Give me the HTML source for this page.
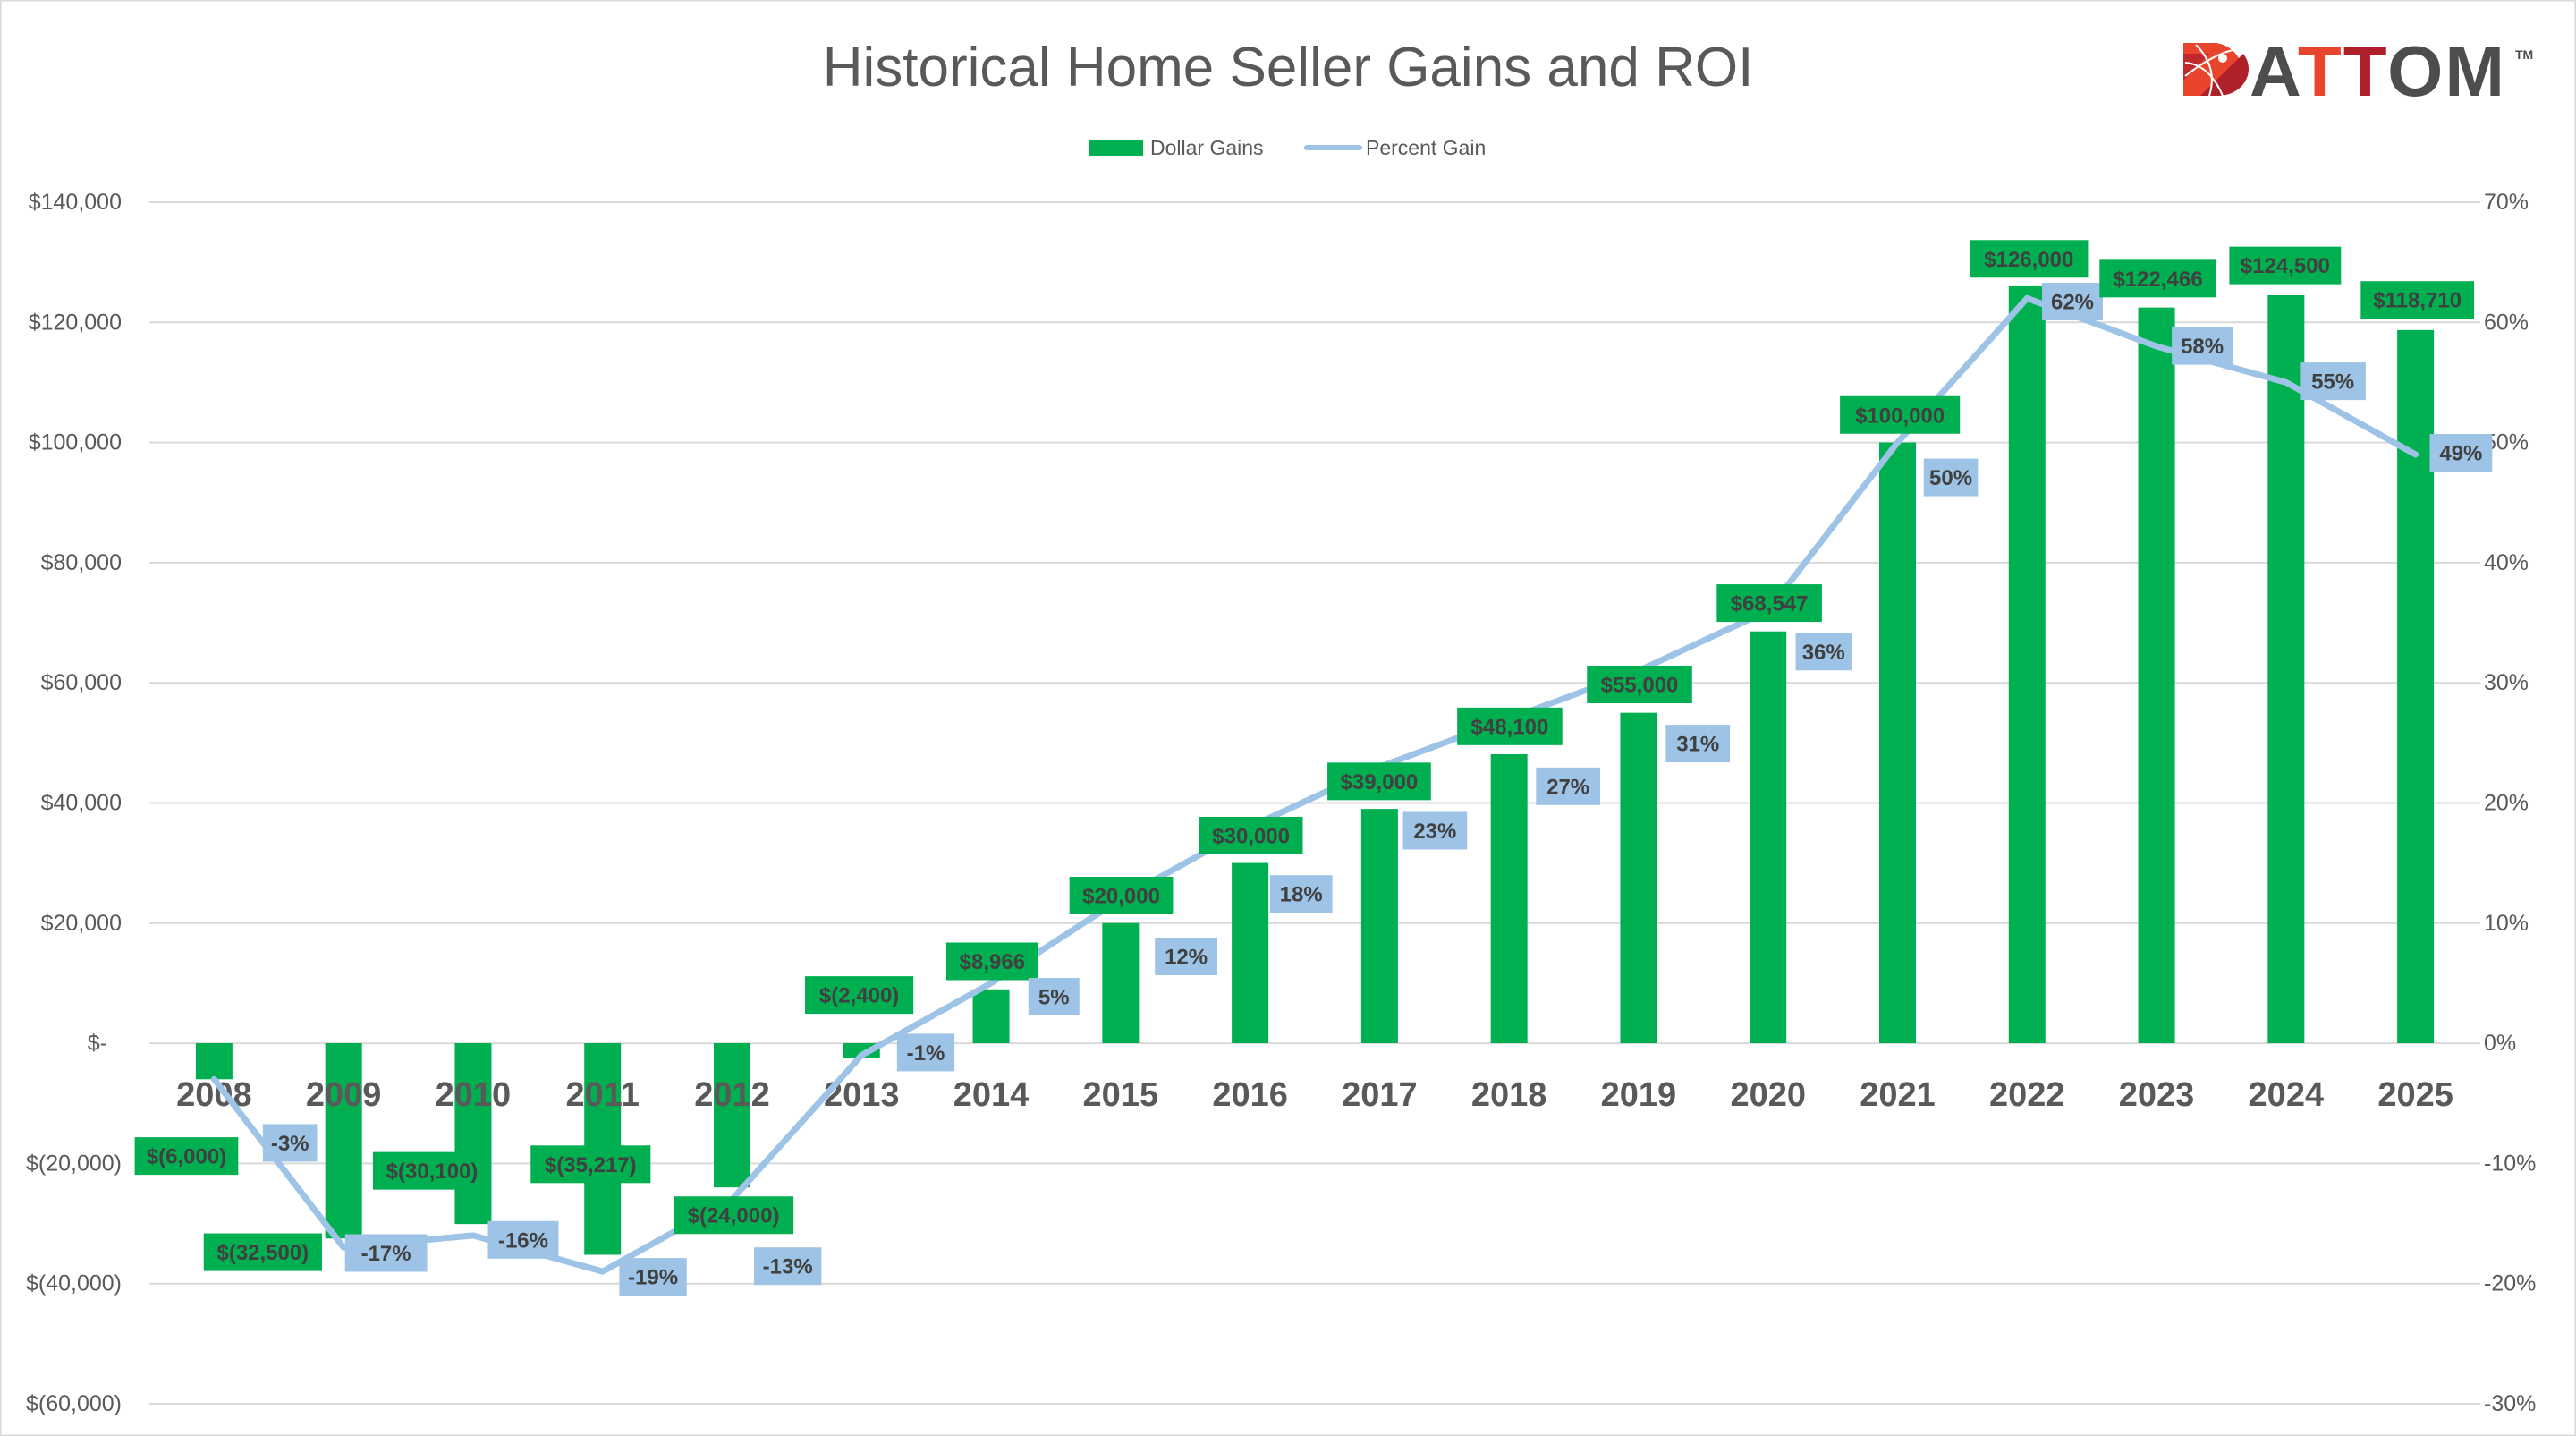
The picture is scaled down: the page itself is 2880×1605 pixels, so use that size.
<!DOCTYPE html>
<html><head><meta charset="utf-8"><style>
html,body{margin:0;padding:0;background:#fff}
svg{display:block}
text{font-family:"Liberation Sans",sans-serif}
</style></head><body>
<svg id="s" width="2880" height="1605" viewBox="0 0 2880 1605" xmlns="http://www.w3.org/2000/svg">
<rect x="0.5" y="0.5" width="2879" height="1604" fill="#fff" stroke="#d9d9d9" stroke-width="2"/>
<text x="1440" y="96" text-anchor="middle" font-size="62" fill="#595959">Historical Home Seller Gains and ROI</text>
<rect x="1217" y="157" width="61" height="17" fill="#00B050"/>
<text x="1286" y="173" font-size="23" fill="#595959">Dollar Gains</text>
<line x1="1461" y1="165" x2="1520" y2="165" stroke="#9DC3E6" stroke-width="6" stroke-linecap="round"/>
<text x="1527" y="173" font-size="23" fill="#595959">Percent Gain</text>
<!-- logo -->
<g>
<path d="M2441 48 L2478 48 A34 30 0 0 1 2478 107 L2441 107 Z" fill="#E8452C"/>
<path d="M2460 107 L2508 60 A34 30 0 0 1 2478 107 Z" fill="#B0202A"/>
<path d="M2441 90 L2470 60 L2441 60 Z" fill="#C0282E"/>
<circle cx="2485" cy="65" r="5" fill="#fff"/>
<path d="M2443 70 Q2470 72 2485 107 M2443 85 Q2475 60 2500 55 M2455 50 Q2480 75 2470 107" stroke="#fff" stroke-width="2" fill="none"/>
<text x="2515" y="107" font-size="80" font-weight="bold" fill="#4d4d4d" letter-spacing="2">A<tspan fill="#E8452C">T</tspan><tspan fill="#B0202A">T</tspan>OM</text>
<text x="2812" y="66" font-size="14" font-weight="bold" fill="#4d4d4d">TM</text>
</g>
<g id="g"></g>
</svg>
<script>
var s=document.getElementById('g'),NS='http://www.w3.org/2000/svg';
function el(t,a,txt){var e=document.createElementNS(NS,t);for(var k in a)e.setAttribute(k,a[k]);if(txt!=null)e.textContent=txt;s.appendChild(e);return e;}
var L=167,R=2773,Z=1166,U=134.3;
var dl=['$140,000','$120,000','$100,000','$80,000','$60,000','$40,000','$20,000','$-','$(20,000)','$(40,000)','$(60,000)'];
var pl=['70%','60%','50%','40%','30%','20%','10%','0%','-10%','-20%','-30%'];
for(var i=0;i<11;i++){var y=226+i*U;
el('line',{x1:L,y1:y,x2:R,y2:y,stroke:'#d9d9d9','stroke-width':2});
el('text',{x:i==7?120:136,y:y+8,'text-anchor':'end','font-size':25,fill:'#595959'},dl[i]);
el('text',{x:2777,y:y+8,'font-size':25,fill:'#595959'},pl[i]);}
var v=[-6000,-32500,-30100,-35217,-24000,-2400,8966,20000,30000,39000,48100,55000,68547,100000,126000,122466,124500,118710];
var p=[-3,-17,-16,-19,-13,-1,5,12,18,23,27,31,36,50,62,58,55,49];
var W=(R-L)/18,pts=[];
for(i=0;i<18;i++){var cx=L+W*(i+.5),h=v[i]/20000*U;
el('rect',{x:cx-20.5,y:h>0?Z-h:Z,width:41,height:Math.abs(h),fill:'#00B050'});
pts.push(cx+','+(Z-p[i]*U/10));}
for(i=0;i<18;i++){var cx=L+W*(i+.5);el('text',{x:cx,y:1236,'text-anchor':'middle','font-size':38,'font-weight':'bold',fill:'#595959'},String(2008+i));}
el('polyline',{points:pts.join(' '),fill:'none',stroke:'#9DC3E6','stroke-width':7,'stroke-linejoin':'round','stroke-linecap':'round'});
var f=1.8367;
var gb=[[113.5,703.5,63,'$(6,000)'],[160,762,72,'$(32,500)'],[263,712.5,72,'$(30,100)'],[359.5,708.5,73,'$(35,217)'],[446.5,739.5,73,'$(24,000)'],[523,605.5,66,'$(2,400)'],[604,585,56,'$8,966'],[682.5,545,63,'$20,000'],[761.5,508.5,63,'$30,000'],[839.5,475.5,63,'$39,000'],[919,442,64,'$48,100'],[998,416.5,64,'$55,000'],[1077,367,64,'$68,547'],[1156.5,252.5,73,'$100,000'],[1235,157.5,72,'$126,000'],[1313.5,169.5,71,'$122,466'],[1391,161.5,68,'$124,500'],[1471.5,182.5,69,'$118,710']];
var bb=[[176.5,695.5,33],[235,762.5,50],[318.5,754.5,43],[397.5,777,41],[479.5,770.5,41],[563.5,640.5,35],[641.5,606.5,31],[722,582,38],[792,544,38],[873.5,505.5,39],[954.5,478.5,39],[1033.5,452.5,39],[1110,396.5,34],[1187.5,290.5,33],[1261.5,183.5,37],[1340.5,210.5,37],[1420,232,40],[1498,275.5,38]];
for(i=0;i<18;i++){var b=gb[i],x=b[0]*f,y=b[1]*f,w=b[2]*f;
el('rect',{x:x-w/2,y:y-21,width:w,height:42,fill:'#00B050'});
el('text',{x:x,y:y+8.5,'text-anchor':'middle','font-size':24,'font-weight':'bold',fill:'#404040'},b[3]);
b=bb[i];x=b[0]*f;y=b[1]*f;w=b[2]*f;
el('rect',{x:x-w/2,y:y-21,width:w,height:42,fill:'#9DC3E6'});
el('text',{x:x,y:y+8.5,'text-anchor':'middle','font-size':24,'font-weight':'bold',fill:'#404040'},p[i]+'%');}
</script>
</body></html>
